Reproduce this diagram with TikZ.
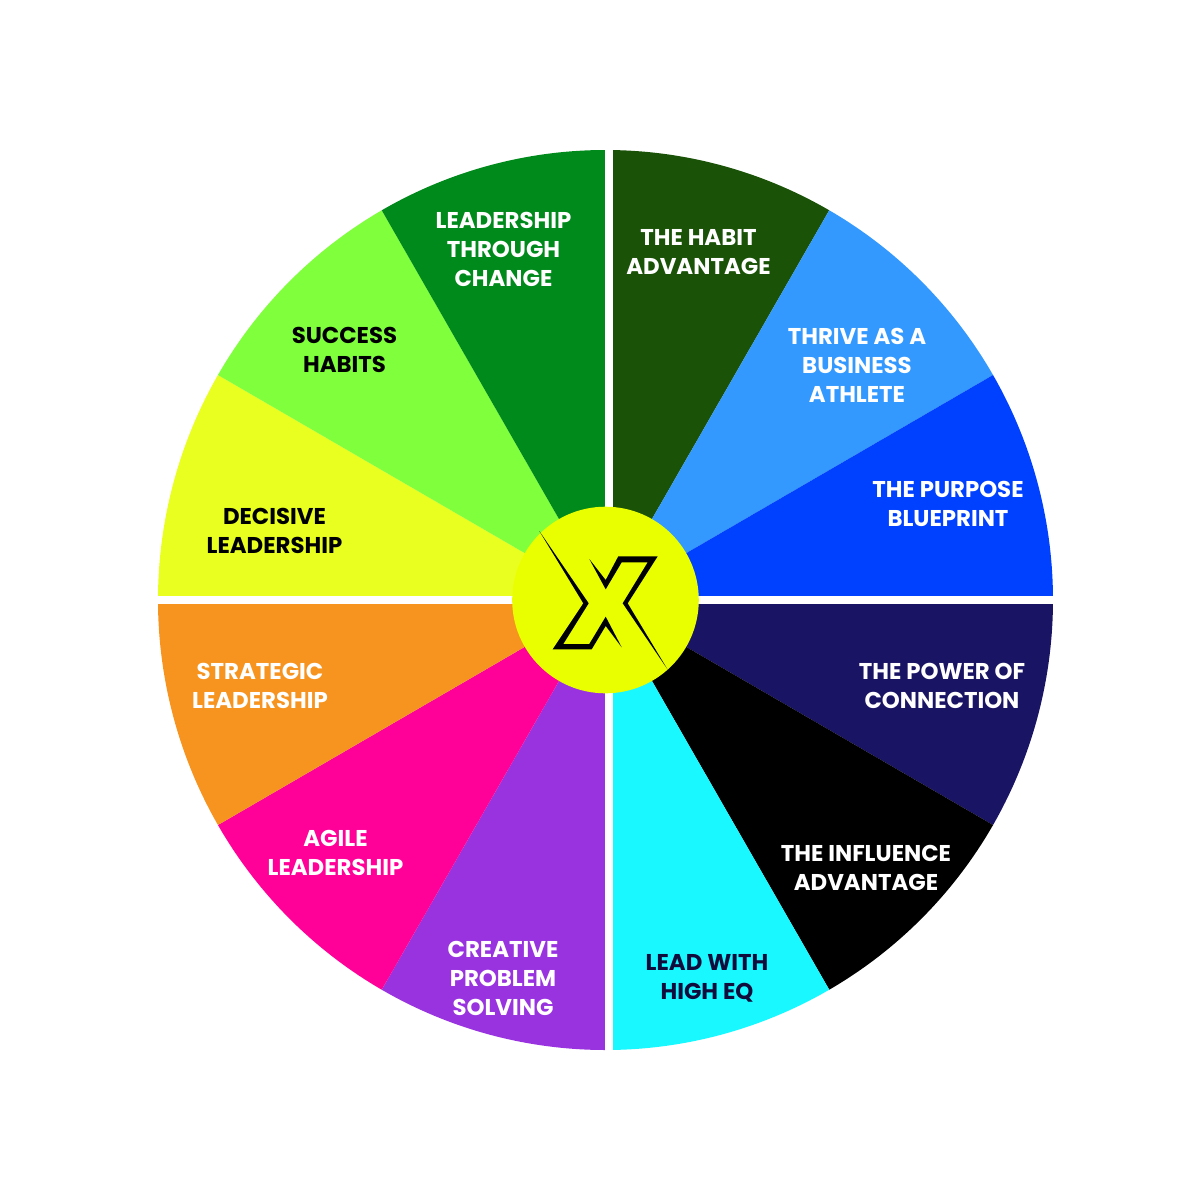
\documentclass[tikz,border=0pt]{standalone}
\usepackage{fontspec}
\setmainfont{Poppins}
\usepackage{xcolor}
\usepackage{tikz}
\definecolor{ohabit}{RGB}{26,82,7}
\definecolor{othrive}{RGB}{51,153,255}
\definecolor{opurpose}{RGB}{0,64,255}
\definecolor{opower}{RGB}{26,20,100}
\definecolor{ocyan}{RGB}{26,248,255}
\definecolor{opurple}{RGB}{153,51,224}
\definecolor{opink}{RGB}{255,0,153}
\definecolor{oorange}{RGB}{247,148,32}
\definecolor{oyellow}{RGB}{233,255,32}
\definecolor{olime}{RGB}{128,255,60}
\definecolor{ogreen}{RGB}{0,138,28}
\definecolor{ohub}{RGB}{233,255,0}
\newcommand{\wedgeat}[3]{\fill[#3] (0,0) -- (#1:4.475 and 4.5) arc[start angle=#1, end angle=#2, x radius=4.475, y radius=4.5] -- cycle;}
\tikzset{
  lbl/.style  ={align=center, inner sep=0pt, text=white,
                font=\fontsize{6.5}{8.25}\selectfont\bfseries},
  lblk/.style ={lbl, text=black},
  gapbar/.style={fill=white},
  hubdisc/.style={circle, fill=ohub, minimum size=1.866cm, inner sep=0pt}
}
\begin{document}
\begin{tikzpicture}
\useasboundingbox (-6.055,-6) rectangle (5.945,6);
\wedgeat{60}{90}{ohabit}
\wedgeat{30}{60}{othrive}
\wedgeat{0}{30}{opurpose}
\wedgeat{-30}{0}{opower}
\wedgeat{-60}{-30}{black}
\wedgeat{-90}{-60}{ocyan}
\wedgeat{-120}{-90}{opurple}
\wedgeat{-150}{-120}{opink}
\wedgeat{-180}{-150}{oorange}
\wedgeat{150}{180}{oyellow}
\wedgeat{120}{150}{olime}
\wedgeat{90}{120}{ogreen}
% white cross between the quadrants
\fill[gapbar] (0,-4.6) rectangle (0.08,4.6);
\fill[gapbar] (-4.6,-0.04) rectangle (4.6,0.04);
\node[hubdisc] (hub) at (0,0) {};
% logo
\fill[black] (-.662,.69) -- (-.168,-.033) -- (-.422,-.44) -- (-.162,-.44) -- (.002,-.167)
  -- (.162,-.473) -- (.002,-.26) -- (-.138,-.493) -- (-.528,-.493) -- (-.222,-.033) -- cycle;
\fill[black] (.618,-.69) -- (.172,-.033) -- (.422,.377) -- (.162,.377) -- (.002,.107)
  -- (-.162,.41) -- (.002,.2) -- (.128,.437) -- (.522,.437) -- (.222,-.033) -- cycle;
% labels
\node[lbl] (habit) at (0.93,3.48) {THE HABIT\\ADVANTAGE};
\node[lbl] (thrive) at (2.515,2.35) {THRIVE AS A\\BUSINESS\\ATHLETE};
\node[lbl] (purpose) at (3.425,0.96) {THE PURPOSE\\BLUEPRINT};
\node[lbl] (power) at (3.365,-0.86) {THE POWER OF\\CONNECTION};
\node[lbl] (influence) at (2.605,-2.68) {THE INFLUENCE\\ADVANTAGE};
\node[lblk, text=opower!60!black] (eq) at (1.015,-3.785) {LEAD WITH\\HIGH EQ};
\node[lbl] (creative) at (-1.025,-3.78) {CREATIVE\\PROBLEM\\SOLVING};
\node[lbl] (agile) at (-2.70,-2.53) {AGILE\\LEADERSHIP};
\node[lbl] (strategic) at (-3.455,-0.86) {STRATEGIC\\LEADERSHIP};
\node[lblk] (decisive) at (-3.31,0.69) {DECISIVE\\LEADERSHIP};
\node[lblk] (success) at (-2.61,2.50) {SUCCESS\\HABITS};
\node[lbl] (change) at (-1.02,3.505) {LEADERSHIP\\THROUGH\\CHANGE};
\end{tikzpicture}
\end{document}
